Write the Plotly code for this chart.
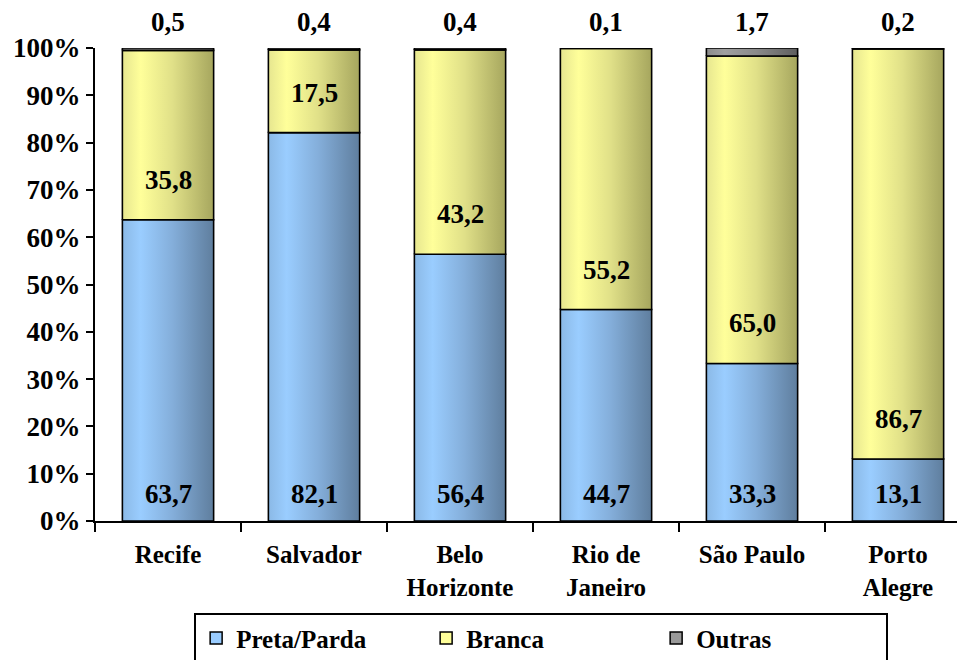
import plotly.graph_objects as go

# Racial composition by metropolitan region (%)
cities = ["Recife", "Salvador", "Belo<br>Horizonte", "Rio de<br>Janeiro", "São Paulo", "Porto<br>Alegre"]
preta_parda = [63.7, 82.1, 56.4, 44.7, 33.3, 13.1]
branca = [35.8, 17.5, 43.2, 55.2, 65.0, 86.7]
outras = [0.5, 0.4, 0.4, 0.1, 1.7, 0.2]
y_ticks = list(range(0, 101, 10))
y_ticktext = [f"{t}%" for t in y_ticks]

series = [
    ("Preta/Parda", preta_parda, [[0, "#8BB9E6"], [0.2, "#9ACDFF"], [0.55, "#84AEDA"], [1, "#5F7E9E"]]),
    ("Branca", branca, [[0, "#E6E690"], [0.2, "#FFFF9A"], [0.55, "#E0E088"], [1, "#A6A65E"]]),
    ("Outras", outras, [[0, "#8C8C8C"], [0.2, "#A0A0A0"], [0.55, "#8A8A8A"], [1, "#5E5E5E"]]),
]
legend_swatch = {"Preta/Parda": "#99CCFF", "Branca": "#FFFF99", "Outras": "#999999"}

BAR_W = 0.625
FONT = "Liberation Serif"

fig = go.Figure()
bases = [0.0] * len(cities)
for name, vals, scale in series:
    for i, v in enumerate(vals):
        x0, x1 = i - BAR_W / 2, i + BAR_W / 2
        b = bases[i]
        fig.add_trace(go.Scatter(
            x=[x0, x1, x1, x0, x0],
            y=[b, b, b + v, b + v, b],
            mode="lines",
            fill="toself",
            fillgradient=dict(type="horizontal", colorscale=scale),
            line=dict(color="black", width=1.6),
            hoverinfo="skip",
            showlegend=False,
        ))
        bases[i] = b + v
    # legend entry for the series
    fig.add_trace(go.Bar(
        x=[None], y=[None], name=name,
        marker=dict(color=legend_swatch[name], line=dict(color="black", width=1.5)),
        showlegend=True,
    ))

label_font = dict(family=FONT, size=27, color="black", weight="bold")

def fmt(v):
    return f"{v:.1f}".replace(".", ",")

for i in range(len(cities)):
    # Preta/Parda labels sit near the base of the bar
    fig.add_annotation(x=i, y=0, text=fmt(preta_parda[i]), showarrow=False,
                       yanchor="middle", yshift=27, font=label_font)
    # Branca labels sit near the base of the yellow segment
    fig.add_annotation(x=i, y=preta_parda[i], text=fmt(branca[i]), showarrow=False,
                       yanchor="middle", yshift=40, font=label_font)
    # Outras labels above the plot
    fig.add_annotation(x=i, y=1, yref="paper", text=fmt(outras[i]), showarrow=False,
                       yanchor="middle", yshift=26, font=label_font)

fig.update_layout(
    width=957, height=660,
    margin=dict(l=95, r=0, t=48, b=139, autoexpand=False),
    plot_bgcolor="white", paper_bgcolor="white",
    barmode="overlay",
    font=dict(family=FONT, size=26, color="black", weight="bold"),
    xaxis=dict(
        range=[-0.5, 5.404], showgrid=False, zeroline=False,
        tickvals=list(range(len(cities))), ticktext=cities, ticks="",
        ticklabelstandoff=10, automargin=False,
        showline=True, linecolor="black", linewidth=2,
        tickfont=dict(family=FONT, size=25, color="black", weight="bold"),
        minor=dict(tickvals=[i + 0.5 for i in range(-1, len(cities))], ticks="outside",
                   ticklen=9, tickwidth=2, tickcolor="black"),
    ),
    yaxis=dict(
        range=[0, 100], showgrid=False, zeroline=False, automargin=False,
        tickvals=y_ticks, ticktext=y_ticktext,
        ticks="outside", ticklen=7, tickwidth=2, tickcolor="black",
        showline=True, linecolor="black", linewidth=2,
        tickfont=dict(family=FONT, size=27, color="black", weight="bold"),
    ),
    legend=dict(
        orientation="h", x=0.115, xanchor="left", y=-0.195, yanchor="top",
        bordercolor="black", borderwidth=2, bgcolor="white",
        font=dict(family=FONT, size=25, color="black", weight="bold"),
        entrywidth=185, itemwidth=30,
    ),
)

fig.write_html("out.html")
